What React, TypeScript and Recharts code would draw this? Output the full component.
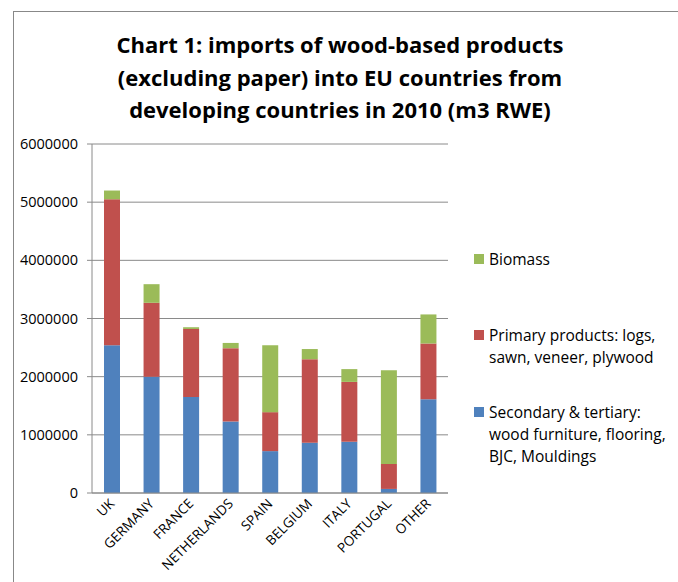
import { BarChart, Bar, XAxis, YAxis, CartesianGrid } from 'recharts'

const countries = ['UK', 'GERMANY', 'FRANCE', 'NETHERLANDS', 'SPAIN', 'BELGIUM', 'ITALY', 'PORTUGAL', 'OTHER']
const secondary = [2540000, 2000000, 1650000, 1230000, 720000, 865000, 880000, 70000, 1610000]
const primary = [2510000, 1270000, 1170000, 1260000, 670000, 1435000, 1030000, 430000, 960000]
const biomass = [150000, 320000, 30000, 90000, 1150000, 175000, 220000, 1610000, 500000]
const yTicks = [0, 1000000, 2000000, 3000000, 4000000, 5000000, 6000000]

const titleLines = [
  'Chart 1: imports of wood-based products',
  '(excluding paper) into EU countries from',
  'developing countries in 2010 (m3 RWE)',
]

const legendItems = [
  { color: '#9BBB59', lines: ['Biomass'] },
  { color: '#C0504D', lines: ['Primary products: logs,', 'sawn, veneer, plywood'] },
  { color: '#4F81BD', lines: ['Secondary & tertiary:', 'wood furniture, flooring,', 'BJC, Mouldings'] },
]

const data = countries.map((name, i) => ({
  name,
  secondary: secondary[i],
  primary: primary[i],
  biomass: biomass[i],
}))

const font = '"Open Sans", sans-serif'

function AngledTick({ x, y, payload }: any) {
  return (
    <text
      x={x}
      y={y}
      transform={`rotate(-45 ${x} ${y})`}
      textAnchor="end"
      fontSize={13.5}
      fontFamily={font}
      fill="#000"
      dy={5}
    >
      {payload.value}
    </text>
  )
}

export default function App() {
  return (
    <div style={{ position: 'absolute', left: 0, top: 0, width: 678, height: 582, background: '#fff', overflow: 'hidden' }}>
      <div style={{ position: 'absolute', left: 13, top: 11, width: 700, height: 600, borderLeft: '1px solid #888', borderTop: '1px solid #888' }} />
      <div
        style={{
          position: 'absolute',
          left: 0,
          top: 28,
          width: 680,
          textAlign: 'center',
          fontFamily: font,
          fontWeight: 'bold',
          fontSize: 22,
          lineHeight: '32.5px',
          color: '#000',
        }}
      >
        {titleLines.map((l) => (
          <div key={l}>{l}</div>
        ))}
      </div>
      <div style={{ position: 'absolute', left: 0, top: 0 }}>
        <BarChart
          width={678}
          height={582}
          data={data}
          margin={{ top: 144, right: 230, left: 12, bottom: 29 }}
          barSize={16}
        >
          <CartesianGrid vertical={false} stroke="#8a8a8a" />
          <XAxis
            dataKey="name"
            interval={0}
            height={60}
            tick={<AngledTick />}
            tickLine={false}
            axisLine={{ stroke: '#8a8a8a' }}
          />
          <YAxis
            width={80}
            domain={[0, 6000000]}
            ticks={yTicks}
            interval={0}
            tickSize={5}
            tickMargin={9}
            tickLine={{ stroke: '#8a8a8a' }}
            axisLine={{ stroke: '#8a8a8a' }}
            tick={{ fontSize: 14.5, fontFamily: font, fill: '#000' }}
          />
          <Bar dataKey="secondary" stackId="a" fill="#4F81BD" isAnimationActive={false} />
          <Bar dataKey="primary" stackId="a" fill="#C0504D" isAnimationActive={false} />
          <Bar dataKey="biomass" stackId="a" fill="#9BBB59" isAnimationActive={false} />
        </BarChart>
      </div>
      {legendItems.map((item, i) => (
        <div
          key={i}
          style={{
            position: 'absolute',
            left: 474,
            top: [248, 324, 401][i],
            fontFamily: font,
            fontSize: 15.5,
            lineHeight: '22px',
            color: '#000',
          }}
        >
          <span style={{ position: 'absolute', left: 0, top: 6, width: 10, height: 10, background: item.color }} />
          <div style={{ marginLeft: 15 }}>
            {item.lines.map((l) => (
              <div key={l} style={{ whiteSpace: 'nowrap' }}>{l}</div>
            ))}
          </div>
        </div>
      ))}
    </div>
  )
}
